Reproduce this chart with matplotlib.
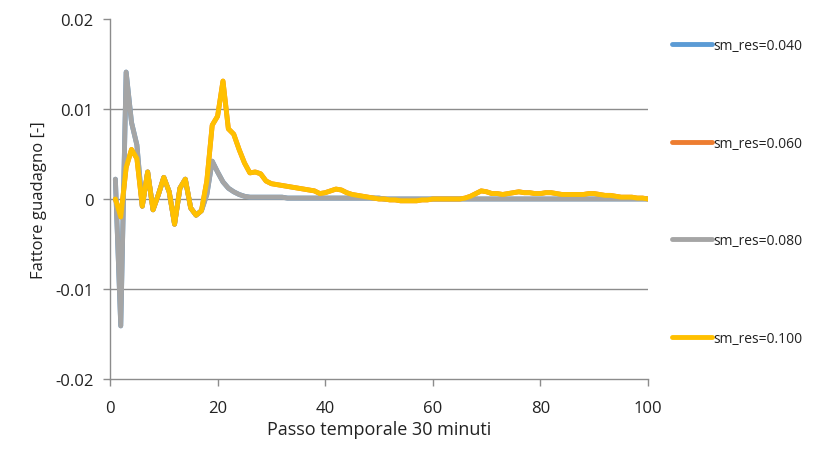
import matplotlib.pyplot as plt
from matplotlib.ticker import FuncFormatter

# Passo temporale (30 minuti) e fattore di guadagno per ciascuna risoluzione
steps = list(range(1, 101))

gain_080 = [
    0.0022, -0.0141, 0.0141, 0.0085, 0.0060, -0.0008, 0.0030, -0.0012, 0.0005, 0.0024,
    0.0008, -0.0028, 0.0012, 0.0022, -0.0010, -0.0018, -0.0013, 0.0005, 0.0042, 0.0030,
    0.0019, 0.0012, 0.0008, 0.0005, 0.0003, 0.0002, 0.0002, 0.0002, 0.0002, 0.0002,
    0.0002, 0.0002, 0.0001, 0.0001, 0.0001, 0.0001, 0.0001, 0.0001, 0.0001, 0.0001,
    0.0001, 0.0001, 0.0001, 0.0001, 0.0001, 0.0001, 0.0001, 0.0001, 0.0001, 0.0001,
    0.0000, 0.0000, 0.0000, 0.0000, 0.0000, 0.0000, 0.0000, 0.0000, 0.0000, 0.0000,
    0.0000, 0.0000, 0.0000, 0.0000, 0.0000, 0.0000, 0.0000, 0.0000, 0.0000, 0.0000,
    0.0000, 0.0000, 0.0000, 0.0000, 0.0000, 0.0000, 0.0000, 0.0000, 0.0000, 0.0000,
    0.0000, 0.0000, 0.0000, 0.0000, 0.0000, 0.0000, 0.0000, 0.0000, 0.0000, 0.0000,
    0.0000, 0.0000, 0.0000, 0.0000, 0.0000, 0.0000, 0.0000, 0.0000, 0.0000, 0.0000,
]

gain_100 = [
    0.0000, -0.0020, 0.0035, 0.0055, 0.0045, -0.0008, 0.0030, -0.0012, 0.0005, 0.0024,
    0.0008, -0.0028, 0.0012, 0.0022, -0.0010, -0.0018, -0.0013, 0.0020, 0.0082, 0.0092,
    0.0131, 0.0078, 0.0072, 0.0055, 0.0040, 0.0029, 0.0030, 0.0028, 0.0020, 0.0017,
    0.0016, 0.0015, 0.0014, 0.0013, 0.0012, 0.0011, 0.0010, 0.0009, 0.0006, 0.0007,
    0.0009, 0.0011, 0.0010, 0.0007, 0.0005, 0.0004, 0.0003, 0.0002, 0.0001, 0.0000,
    0.0000, -0.0001, -0.0001, -0.0002, -0.0002, -0.0002, -0.0002, -0.0001, -0.0001, 0.0000,
    0.0000, 0.0000, 0.0000, 0.0000, 0.0000, 0.0001, 0.0003, 0.0006, 0.0009, 0.0008,
    0.0006, 0.0006, 0.0005, 0.0006, 0.0007, 0.0008, 0.0007, 0.0007, 0.0006, 0.0006,
    0.0007, 0.0007, 0.0006, 0.0005, 0.0005, 0.0005, 0.0005, 0.0005, 0.0006, 0.0006,
    0.0005, 0.0004, 0.0004, 0.0003, 0.0002, 0.0002, 0.0002, 0.0001, 0.0001, 0.0000,
]

# le risoluzioni più fini coincidono con quelle sopra e restano nascoste sotto
gain_040 = list(gain_080)
gain_060 = list(gain_100)

labels = ['sm_res=0.040', 'sm_res=0.060', 'sm_res=0.080', 'sm_res=0.100']
colors = ['#5B9BD5', '#ED7D31', '#A5A5A5', '#FFC000']
series = [gain_040, gain_060, gain_080, gain_100]

plt.rcParams['font.family'] = ['Open Sans', 'DejaVu Sans']
GRID_COLOR = '#8c8c8c'
TEXT_COLOR = '#222222'

fig = plt.figure(figsize=(8.16, 4.52), dpi=100)
ax = fig.add_axes([0.1348, 0.1593, 0.6593, 0.7965])

for values, color, label in zip(series, colors, labels):
    ax.plot(steps, values, color=color, lw=3.5, label=label,
            solid_joinstyle='round', solid_capstyle='round')

ax.set_xlim(0, 100)
ax.set_ylim(-0.02, 0.02)
ax.set_xticks(range(0, 101, 20))
ax.set_yticks([-0.02, -0.01, 0, 0.01, 0.02])
ax.yaxis.set_major_formatter(FuncFormatter(lambda v, p: '0' if abs(v) < 1e-9 else f'{v:.2f}'))

for y in [-0.01, 0, 0.01]:
    ax.axhline(y, color=GRID_COLOR, lw=1, zorder=0)

for side in ['top', 'right']:
    ax.spines[side].set_visible(False)
for side in ['left', 'bottom']:
    ax.spines[side].set_color(GRID_COLOR)
    ax.spines[side].set_linewidth(1)

ax.tick_params(axis='both', direction='out', length=5, width=1, color=GRID_COLOR,
               labelsize=12, labelcolor=TEXT_COLOR)
ax.tick_params(axis='x', pad=10)
ax.tick_params(axis='y', pad=7)

ax.set_xlabel('Passo temporale 30 minuti', fontsize=13, color=TEXT_COLOR, labelpad=3)
ax.set_ylabel('Fattore guadagno [-]', fontsize=12, color=TEXT_COLOR, labelpad=6)

fig.legend(loc='center left', bbox_to_anchor=(0.808, 0.573), frameon=False,
           fontsize=10, handlelength=2.9, handletextpad=0.1, labelspacing=5.95,
           labelcolor=TEXT_COLOR)

fig.savefig('out.png', dpi=100)
